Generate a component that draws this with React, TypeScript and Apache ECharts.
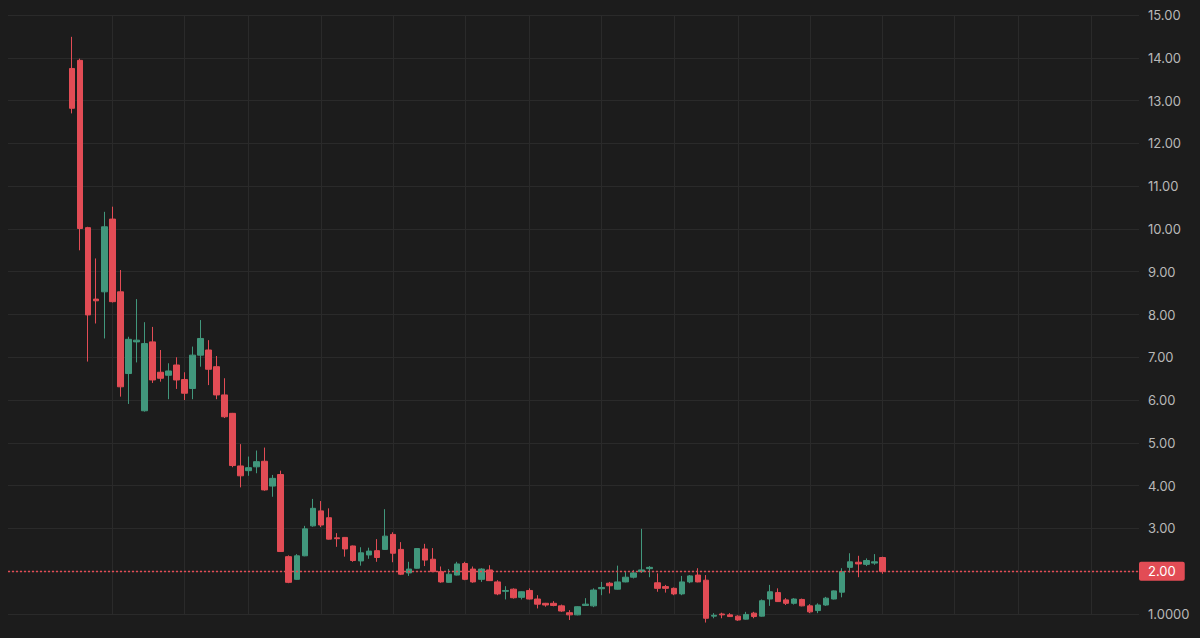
import React, { useEffect, useRef } from "react";
import * as echarts from "echarts";

// Weekly candles (open, close, low, high)
const opens = [
  13.75, 13.94, 10.03, 8.36, 8.53, 10.23, 8.53, 6.62, 7.36, 5.75,
  7.36, 6.65, 6.58, 6.82, 6.48, 6.27, 7.05, 7.17, 6.78, 6.12,
  5.69, 4.46, 4.35, 4.44, 4.57, 3.99, 4.26, 2.34, 1.81, 2.36,
  3.06, 3.41, 3.25, 2.78, 2.79, 2.59, 2.24, 2.38, 2.48, 2.51,
  2.86, 2.51, 1.96, 2.07, 2.52, 2.28, 1.99, 1.74, 1.91, 2.18,
  2.05, 1.81, 2.03, 1.75, 1.53, 1.58, 1.39, 1.55, 1.35, 1.25,
  1.25, 1.19, 1.03, 0.98, 1.20, 1.19, 1.59, 1.72, 1.58, 1.75,
  1.86, 1.99, 2.06, 1.73, 1.64, 1.60, 1.47, 1.75, 1.91, 1.79,
  0.95, 1.00, 0.98, 0.95, 0.88, 1.02, 0.95, 1.35, 1.50, 1.33,
  1.25, 1.34, 1.19, 1.08, 1.21, 1.35, 1.51, 2.09, 2.21, 2.16,
  2.19, 2.32,
];
const closes = [
  12.82, 10.01, 7.99, 8.32, 10.05, 8.30, 6.31, 7.42, 7.40, 7.32,
  6.47, 6.51, 6.68, 6.47, 6.16, 7.05, 7.44, 6.72, 6.12, 5.61,
  4.47, 4.23, 4.42, 4.56, 3.90, 4.17, 2.46, 1.74, 2.36, 2.99,
  3.47, 3.08, 2.75, 2.76, 2.52, 2.25, 2.43, 2.47, 2.32, 2.82,
  2.42, 1.93, 2.05, 2.53, 2.26, 1.99, 1.75, 1.93, 2.17, 1.81,
  1.75, 2.05, 1.78, 1.47, 1.55, 1.38, 1.52, 1.35, 1.23, 1.21,
  1.20, 1.07, 0.98, 1.17, 1.23, 1.56, 1.62, 1.66, 1.75, 1.86,
  1.96, 2.03, 2.09, 1.60, 1.60, 1.47, 1.75, 1.89, 1.75, 0.90,
  0.97, 0.98, 0.94, 0.86, 0.99, 0.94, 1.31, 1.52, 1.29, 1.25,
  1.35, 1.19, 1.05, 1.21, 1.37, 1.54, 1.99, 2.22, 2.17, 2.25,
  2.22, 1.998,
];
const lows = [
  12.70, 9.50, 6.90, 7.79, 7.44, 8.28, 6.08, 5.91, 6.88, 5.73,
  6.40, 6.43, 6.02, 6.26, 6.00, 6.02, 6.78, 6.35, 6.02, 5.58,
  4.43, 3.96, 4.23, 4.29, 3.88, 3.74, 2.45, 1.72, 1.80, 2.35,
  3.04, 3.03, 2.74, 2.57, 2.34, 2.22, 2.13, 2.29, 2.22, 2.50,
  2.21, 1.91, 1.89, 2.06, 2.12, 1.98, 1.73, 1.73, 1.90, 1.79,
  1.73, 1.75, 1.77, 1.44, 1.34, 1.36, 1.34, 1.34, 1.13, 1.17,
  1.18, 1.05, 0.86, 0.97, 1.19, 1.16, 1.44, 1.48, 1.57, 1.74,
  1.83, 1.96, 1.86, 1.52, 1.50, 1.44, 1.44, 1.72, 1.74, 0.80,
  0.90, 0.90, 0.93, 0.84, 0.87, 0.90, 0.94, 1.19, 1.28, 1.21,
  1.22, 1.18, 1.02, 1.02, 1.19, 1.34, 1.39, 1.97, 1.86, 2.12,
  2.15, 1.94,
];
const highs = [
  14.49, 13.98, 10.05, 9.31, 10.40, 10.52, 9.04, 7.48, 8.36, 7.82,
  7.71, 7.17, 6.86, 7.00, 6.65, 7.25, 7.87, 7.40, 7.03, 6.51,
  5.70, 4.97, 4.68, 4.82, 4.89, 4.25, 4.35, 2.37, 2.40, 3.06,
  3.69, 3.64, 3.47, 2.89, 2.80, 2.60, 2.56, 2.55, 2.75, 3.45,
  2.91, 2.68, 2.22, 2.54, 2.64, 2.54, 2.11, 2.05, 2.22, 2.22,
  2.11, 2.07, 2.14, 1.79, 1.65, 1.60, 1.53, 1.60, 1.44, 1.26,
  1.30, 1.22, 1.09, 1.18, 1.37, 1.60, 1.75, 1.75, 2.13, 1.99,
  2.03, 2.99, 2.12, 1.95, 1.68, 1.62, 1.89, 1.91, 2.07, 1.91,
  1.02, 1.03, 1.02, 0.97, 1.05, 1.05, 1.34, 1.68, 1.60, 1.37,
  1.37, 1.36, 1.23, 1.25, 1.40, 1.55, 2.07, 2.42, 2.36, 2.30,
  2.40, 2.34,
];

// Axis layout: empty weeks before the first and after the last candle
const leadingWeeks = 8;
const totalWeeks = 142;
const weekLabels = Array.from({ length: totalWeeks }, (_, i) => `W${i + 1}`);
// Vertical grid lines (every two months) at these week slots
const monthGridWeeks = [13, 22, 30, 39, 48, 57, 65, 74, 83, 91, 100, 109, 118, 126, 135];
const yTicksMin = 1;
const yTicksMax = 15;

const UP = "#41977c";
const DOWN = "#e24c55";
const BG = "#1c1c1c";
const GRID = "#2a2a2a";

export default function App() {
  const ref = useRef<HTMLDivElement>(null);
  useEffect(() => {
    if (!ref.current) return;
    const chart = echarts.init(ref.current, undefined, { renderer: "svg" });
    const rows = opens.map((o, i) => [i + leadingWeeks, o, closes[i], lows[i], highs[i]]);
    const last = closes[closes.length - 1];
    chart.setOption({
      animation: false,
      backgroundColor: BG,
      grid: { left: 8, right: 61, top: 15, bottom: 24 },
      xAxis: {
        type: "category",
        data: weekLabels,
        boundaryGap: false,
        axisLine: { show: false },
        axisTick: { show: false },
        axisLabel: { show: false },
        splitLine: {
          show: true,
          interval: (index: number) => monthGridWeeks.includes(index),
          lineStyle: { color: GRID, width: 1 },
        },
      },
      yAxis: {
        type: "value",
        position: "right",
        min: yTicksMin,
        max: yTicksMax,
        interval: 1,
        axisLine: { show: false },
        axisTick: { show: false },
        splitLine: { show: true, lineStyle: { color: GRID, width: 1 } },
        axisLabel: {
          margin: 9,
          color: "#b8b8b8",
          fontSize: 13,
          fontFamily: "Inter, 'Noto Sans', sans-serif",
          align: "left",
          formatter: (v: number) => (v === 1 ? "1.0000" : v === 2 ? "" : v.toFixed(2)),
        },
      },
      series: [
        {
          type: "candlestick",
          data: rows,
          encode: { x: 0, y: [1, 2, 3, 4] },
          barWidth: 6,
          clip: false,
          itemStyle: {
            color: UP,
            color0: DOWN,
            borderColor: UP,
            borderColor0: DOWN,
            borderWidth: 1,
          },
          markLine: {
            silent: true,
            symbol: ["none", "none"],
            itemStyle: { color: DOWN },
            lineStyle: { color: DOWN, type: [2, 2], width: 1.3, opacity: 1 },
            emphasis: { disabled: true },
            label: {
              show: true,
              position: "end",
              distance: 0,
              formatter: () => last.toFixed(2),
              backgroundColor: DOWN,
              color: "#ffffff",
              fontSize: 13,
              fontFamily: "Inter, 'Noto Sans', sans-serif",
              padding: [3, 9, 3, 9],
              borderRadius: 2,
            },
            data: [{ yAxis: last, lineStyle: { color: DOWN } }],
          },
        },
      ],
    });
    return () => chart.dispose();
  }, []);
  return (
    <div
      ref={ref}
      style={{ position: "absolute", left: 0, top: 0, width: 1200, height: 638, background: BG }}
    />
  );
}
